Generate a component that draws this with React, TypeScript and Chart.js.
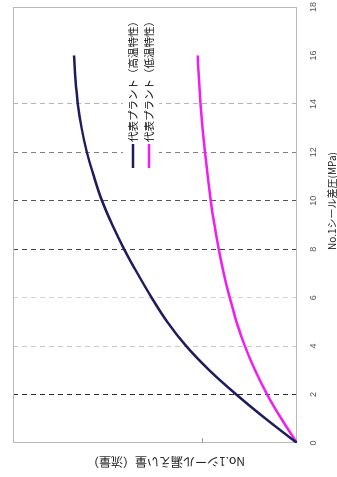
import React, { useEffect, useRef } from "react";
import { Chart, registerables } from "chart.js";

Chart.register(...registerables);

// ---- data ----
const pressure = [0, 1, 2, 3, 4, 5, 6, 7, 8, 9, 10, 11, 12, 13, 14, 15, 16];
const highTemp = [0, 0.33, 0.64, 0.925, 1.17, 1.37, 1.535, 1.685, 1.825, 1.95, 2.06, 2.145, 2.22, 2.275, 2.315, 2.34, 2.355];
const lowTemp = [0, 0.165, 0.315, 0.443, 0.551, 0.639, 0.711, 0.773, 0.826, 0.871, 0.91, 0.944, 0.973, 0.998, 1.019, 1.036, 1.049];
const seriesLabels = ["代表プラント（高温特性）", "代表プラント（低温特性）"];
const xTickValues = [0, 2, 4, 6, 8, 10, 12, 14, 16, 18];
const yMarkValues = [1];
const xTitle = "No.1シール差圧(MPa)";
const yTitle = "No.1シール漏えい量（流量）";

const seriesColors = ["#1e1b5e", "#f01ef0"];
const gridColors: Record<number, string> = {
  2: "#2a2a2a",
  4: "#c8c8c8",
  6: "#d2d2d2",
  8: "#454545",
  10: "#555555",
  12: "#808080",
  14: "#b4b4b4",
};

const CJK = "'Noto Sans CJK JP', 'Noto Sans', sans-serif";

const decorPlugin = {
  id: "decor",
  beforeDatasetsDraw(chart: any) {
    const { ctx, chartArea } = chart;
    const { left, right, top, bottom } = chartArea;
    ctx.save();
    ctx.strokeStyle = "#b8b8b8";
    ctx.lineWidth = 1;
    ctx.strokeRect(left + 0.5, top + 0.5, right - left - 1, bottom - top - 1);
    // inward ticks on value axis
    const ys = chart.scales.y;
    ctx.strokeStyle = "#9a9a9a";
    yMarkValues.forEach((v) => {
      const py = Math.round(ys.getPixelForValue(v)) + 0.5;
      ctx.beginPath();
      ctx.moveTo(left, py);
      ctx.lineTo(left + 5, py);
      ctx.stroke();
    });
    ctx.restore();
  },
  afterDraw(chart: any) {
    const { ctx, chartArea } = chart;
    const { left, top } = chartArea;
    ctx.save();
    // legend inside the plot
    const lx = left + 271;
    const ly = top + 110;
    ctx.fillStyle = "#ffffff";
    ctx.fillRect(lx, ly, 156, 36);
    ctx.font = `10.5px ${CJK}`;
    ctx.textAlign = "left";
    ctx.textBaseline = "middle";
    chart.data.datasets.forEach((ds: any, i: number) => {
      const ry = ly + 10 + i * 16;
      ctx.strokeStyle = ds.borderColor;
      ctx.lineWidth = 2.5;
      ctx.beginPath();
      ctx.moveTo(lx + 4, ry);
      ctx.lineTo(lx + 28, ry);
      ctx.stroke();
      ctx.fillStyle = "#111111";
      ctx.fillText(ds.label, lx + 30, ry);
    });
    // axis titles
    ctx.fillStyle = "#222222";
    ctx.textAlign = "center";
    ctx.textBaseline = "middle";
    ctx.font = `10px ${CJK}`;
    ctx.fillText(xTitle, 276, 332);
    ctx.translate(15, 166);
    ctx.rotate(-Math.PI / 2);
    ctx.font = `12px ${CJK}`;
    ctx.fillText(yTitle, 0, 0);
    ctx.restore();
  },
};

export default function App() {
  const canvasRef = useRef<HTMLCanvasElement | null>(null);

  useEffect(() => {
    const canvas = canvasRef.current;
    if (!canvas) return;
    const chart = new Chart(canvas, {
      type: "line",
      data: {
        datasets: [
          {
            label: seriesLabels[0],
            data: pressure.map((p, i) => ({ x: p, y: highTemp[i] })),
            borderColor: seriesColors[0],
            backgroundColor: seriesColors[0],
            borderWidth: 2.5,
            pointRadius: 0,
            cubicInterpolationMode: "monotone",
            fill: false,
          },
          {
            label: seriesLabels[1],
            data: pressure.map((p, i) => ({ x: p, y: lowTemp[i] })),
            borderColor: seriesColors[1],
            backgroundColor: seriesColors[1],
            borderWidth: 2.5,
            pointRadius: 0,
            cubicInterpolationMode: "monotone",
            fill: false,
          },
        ],
      },
      options: {
        responsive: false,
        animation: false,
        devicePixelRatio: 1,
        layout: { padding: { left: 0, top: 13, right: 7, bottom: 0 } },
        plugins: {
          legend: { display: false },
          tooltip: { enabled: false },
        },
        scales: {
          x: {
            type: "linear",
            min: 0,
            max: 18,
            afterBuildTicks: (scale: any) => {
              scale.ticks = xTickValues.map((v) => ({ value: v }));
            },
            afterFit: (scale: any) => {
              scale.height = 40;
              scale.paddingLeft = 0;
              scale.paddingRight = 0;
            },
            ticks: {
              padding: 11,
              color: "#555555",
              font: { size: 9, family: "'Liberation Sans', Arial, sans-serif" },
              maxRotation: 0,
              autoSkip: false,
            },
            grid: {
              drawTicks: false,
              lineWidth: 1,
              color: (c: any) => gridColors[c.tick?.value] || "rgba(0,0,0,0)",
            },
            border: { display: false, dash: [5, 4] },
          },
          y: {
            type: "linear",
            min: 0,
            max: 3,
            afterFit: (scale: any) => {
              scale.width = 34;
              scale.paddingTop = 0;
              scale.paddingBottom = 0;
            },
            ticks: { display: false },
            grid: { display: false, drawTicks: false },
            border: { display: false },
          },
        },
      },
      plugins: [decorPlugin],
    } as any);
    return () => chart.destroy();
  }, []);

  return (
    <div
      style={{
        position: "fixed",
        left: 0,
        top: 0,
        width: 337,
        height: 477,
        overflow: "hidden",
        background: "#ffffff",
      }}
    >
      <div
        style={{
          position: "absolute",
          left: -70,
          top: 70,
          width: 477,
          height: 337,
          transform: "rotate(-90deg)",
        }}
      >
        <canvas ref={canvasRef} width={477} height={337} style={{ width: 477, height: 337, display: "block" }} />
      </div>
    </div>
  );
}
